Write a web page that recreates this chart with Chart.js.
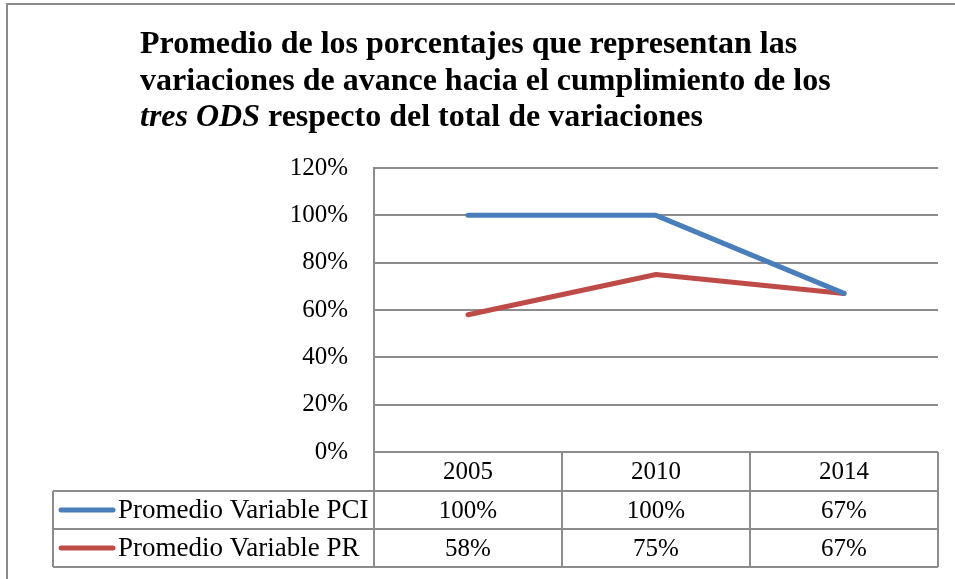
<!DOCTYPE html>
<html>
<head>
<meta charset="utf-8">
<script src="https://cdn.jsdelivr.net/npm/chart.js@4"></script>
<style>
  html, body { margin: 0; padding: 0; background: #fff; }
  canvas { display: block; }
</style>
</head>
<body>
<canvas id="chart" width="955" height="579"></canvas>
<script>
// data
const years = ['2005', '2010', '2014'];
const seriesNames = ['Promedio Variable PCI', 'Promedio Variable PR'];
const pciValues = [1.00, 1.00, 0.67];
const prValues = [0.58, 0.75, 0.67];
const seriesColors = ['#4a7ebb', '#be4b48'];

const SERIF = '"Liberation Serif", "Times New Roman", serif';
const GRID = '#8c8c8c';

const pct = v => Math.round(v * 100) + '%';

// title, outer frame and the data table under the plot
const extras = {
    id: 'extras',
    beforeDraw(chart) {
        const c = chart.ctx;
        c.save();
        c.fillStyle = '#fff';
        c.fillRect(0, 0, chart.width, chart.height);
        c.strokeStyle = '#8a8a8a';
        c.lineWidth = 2;
        c.strokeRect(7, 4, chart.width + 20, chart.height + 20);
        c.restore();
    },
    afterDraw(chart) {
        const c = chart.ctx;
        const area = chart.chartArea;
        const x = chart.scales.x;
        c.save();

        // title
        c.fillStyle = '#000';
        c.textBaseline = 'alphabetic';
        c.textAlign = 'left';
        c.font = 'bold 32px ' + SERIF;
        c.fillText('Promedio de los porcentajes que representan las', 140, 53);
        c.fillText('variaciones de avance hacia el cumplimiento de los', 140, 90);
        c.font = 'italic bold 32px ' + SERIF;
        c.fillText('tres ODS', 140, 126);
        const w = c.measureText('tres ODS').width;
        c.font = 'bold 32px ' + SERIF;
        c.fillText(' respecto del total de variaciones', 140 + w, 126);

        // table
        const top = area.bottom;
        const rows = [top, top + 39, top + 77, top + 115];
        const colW = (area.right - area.left) / years.length;
        const tableLeft = 53;

        c.strokeStyle = GRID;
        c.lineWidth = 2;
        c.beginPath();
        // horizontal
        c.moveTo(area.left, rows[0]); c.lineTo(area.right, rows[0]);
        for (let r = 1; r < rows.length; r++) {
            c.moveTo(tableLeft, rows[r]); c.lineTo(area.right, rows[r]);
        }
        // vertical
        c.moveTo(tableLeft, rows[1]); c.lineTo(tableLeft, rows[3]);
        c.moveTo(area.left, area.top); c.lineTo(area.left, rows[3]);
        for (let i = 1; i <= years.length; i++) {
            const xx = area.left + colW * i;
            c.moveTo(xx, rows[0]); c.lineTo(xx, rows[3]);
        }
        c.stroke();

        c.font = '25px ' + SERIF;
        c.textBaseline = 'middle';
        c.textAlign = 'center';
        c.fillStyle = '#000';
        years.forEach((y, i) => {
            const cx = x.getPixelForValue(i);
            c.fillText(y, cx, (rows[0] + rows[1]) / 2 + 1);
        });

        const values = [pciValues, prValues];
        values.forEach((vals, s) => {
            const cy = (rows[s + 1] + rows[s + 2]) / 2 + 1;
            c.font = '25px ' + SERIF;
            vals.forEach((v, i) => {
                c.fillText(pct(v), x.getPixelForValue(i), cy);
            });
            // legend key
            c.strokeStyle = seriesColors[s];
            c.lineWidth = 5;
            c.lineCap = 'round';
            c.beginPath();
            c.moveTo(61, cy - 1);
            c.lineTo(113, cy - 1);
            c.stroke();
            c.textAlign = 'left';
            c.font = '27px ' + SERIF;
            c.fillText(seriesNames[s], 118, cy);
            c.textAlign = 'center';
        });

        c.restore();
    }
};

new Chart(document.getElementById('chart'), {
    type: 'line',
    data: {
        labels: years,
        datasets: [
            {
                label: seriesNames[0],
                data: pciValues,
                borderColor: seriesColors[0],
                borderWidth: 5,
                borderCapStyle: 'round',
                borderJoinStyle: 'round',
                pointRadius: 0,
                tension: 0
            },
            {
                label: seriesNames[1],
                data: prValues,
                borderColor: seriesColors[1],
                borderWidth: 5,
                borderCapStyle: 'round',
                borderJoinStyle: 'round',
                pointRadius: 0,
                tension: 0
            }
        ]
    },
    options: {
        responsive: false,
        animation: false,
        layout: { padding: { left: 0, top: 168, right: 17, bottom: 127 } },
        plugins: {
            legend: { display: false },
            title: { display: false },
            tooltip: { enabled: false }
        },
        scales: {
            x: {
                display: false,
                offset: true
            },
            y: {
                min: 0,
                max: 1.2,
                afterFit: scale => { scale.width = 374; },
                border: { display: true, color: GRID, width: 2 },
                grid: { color: GRID, lineWidth: 2, drawTicks: false },
                ticks: {
                    stepSize: 0.2,
                    padding: 26,
                    color: '#000',
                    font: { family: SERIF, size: 25 },
                    callback: v => pct(v)
                }
            }
        }
    },
    plugins: [extras]
});
</script>
</body>
</html>
